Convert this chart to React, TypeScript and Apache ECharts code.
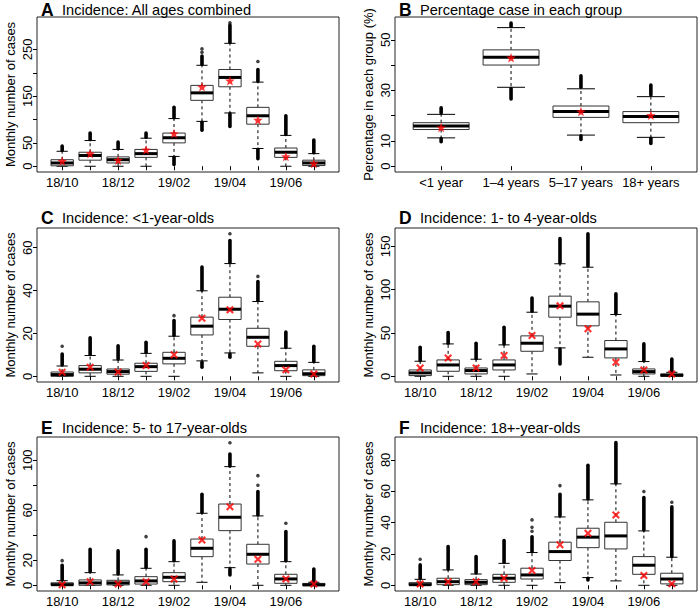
import React, { useEffect, useRef } from 'react';
import * as echarts from 'echarts';

const FONT = 'Liberation Sans, Arial, Helvetica, sans-serif';

const months = ['18/10', '18/11', '18/12', '19/01', '19/02', '19/03', '19/04', '19/05', '19/06', '19/07'];
const groups = ['<1 year', '1\u20134 years', '5\u201317 years', '18+ years'];

// Box stats per category: [lower whisker, Q1, median, Q3, upper whisker]
// Panel A: all ages
const boxA = [
  [0, 1, 7, 14, 32], [0, 13, 23, 30, 55], [0, 7, 14, 20, 36], [0, 19, 27, 36, 60], [21, 50, 61, 71, 102],
  [96, 141, 157, 173, 216], [114, 170, 190, 207, 263], [38, 90, 108, 126, 180], [0, 19, 30, 39, 66], [0, 1.5, 7, 13, 27],
];
const outHiA = [[34, 43], [57, 71], [38, 52], [62, 71], [104, 126], [218, 236], [265, 302], [182, 207], [68, 108], [29, 56]];
const outLoA = [null, null, null, null, [4, 19], [77, 94], [85, 112], [16, 36], null, null];
const sparseA = [[6, 244], [6, 251], [7, 307], [8, 224]];
const obsA = [11, 27, 13, 35, 70, 170, 183, 99, 21, 6];

// Panel B: percentage in each group
const boxB = [[11.2, 14.5, 15.9, 17.2, 20.5], [31.2, 40, 43.1, 46, 54.8], [12.3, 19.3, 21.6, 23.8, 30.6], [11.4, 17.2, 19.6, 21.6, 27.5]];
const outHiB = [[21, 23.1], [55.3, 56.6], [31.2, 35.7], [28.2, 32.1]];
const outLoB = [[9.7, 10.9], [26.6, 30.7], [10.6, 12], [9, 11]];
const sparseB: number[][] = [];
const obsB = [15.3, 42.9, 21.6, 20.1];

// Panel C: <1-year-olds
const boxC = [
  [0, 0, 0.8, 2, 4.8], [0, 1.6, 3.3, 5, 9.7], [0, 1, 2.2, 3.4, 7.6], [0, 2.3, 4.5, 6.1, 10.7], [0, 5.8, 8.4, 11.2, 18.7],
  [7.2, 19.3, 23.4, 27.6, 39.9], [10.9, 26.5, 31.3, 36.9, 52.6], [1.6, 14, 18.2, 22.4, 34.9], [0, 2.6, 5, 7, 13.1], [0, 0.3, 1.2, 3, 6.5],
];
const outHiC = [[5.3, 10.4], [10.2, 18], [8.1, 14.2], [11.2, 15.9], [19.2, 26], [40.3, 51], [53, 63.4], [35.4, 44.2], [13.6, 20.6], [7, 14]];
const outLoC = [null, null, null, null, null, [4.2, 6.5], [8.9, 10.4], null, null, null];
const sparseC = [[1, 14], [5, 28.3], [7, 66.5], [8, 46.6]];
const obsC = [1.9, 4.2, 2, 5, 10.1, 27.1, 31, 15.1, 3, 1.1];

// Panel D: 1- to 4-year-olds
const boxD = [
  [0, 0.8, 3.9, 7.3, 17.4], [0, 5.8, 13.1, 18.9, 37.4], [0, 2.7, 6.6, 9.6, 19.7], [0, 7.3, 13.1, 18.9, 36.3], [2.7, 28.9, 38.2, 46.7, 74],
  [32.8, 68.3, 81, 92.6, 130], [22, 58.3, 71.8, 86, 126], [1.5, 21.2, 31.6, 41.3, 71.4], [0, 2.7, 5.4, 8.5, 17], [0, 0, 1.2, 2.7, 4.6],
];
const outHiD = [[18.2, 33.6], [38.2, 50.5], [20.4, 38.2], [37.4, 56.7], [75.2, 90.3], [131, 159], [127.5, 164.7], [72.3, 95.3], [18, 37.4], [5.8, 20]];
const outLoD = [null, null, null, null, null, [14.3, 31.6], null, null, null, null];
const sparseD: number[][] = [];
const obsD = [9.6, 21.2, 9.6, 23.9, 47, 81.4, 54.8, 16.2, 7.3, 2.7];

// Panel E: 5- to 17-year-olds
const boxE = [
  [0, 0, 0.5, 2, 3.7], [0, 0, 1.9, 4.3, 10.1], [0, 0.3, 1.9, 4, 8.3], [0, 1, 3.5, 6.9, 13.6], [0, 2.9, 6.4, 10.1, 18.9],
  [2.4, 22.9, 29.6, 37, 57.6], [14.1, 43.7, 54.4, 65, 94.9], [0, 17, 24.8, 32.8, 55.5], [0, 1.6, 5.1, 8.8, 18.9], [0, 0, 0.3, 1.5, 2.4],
];
const outHiE = [[4.3, 16], [11, 28.8], [9, 27.5], [14.4, 28.8], [19.7, 35.5], [58.4, 72.8], [95.5, 105], [56.3, 75], [19.7, 43], [3.5, 13]];
const outLoE = [null, null, null, null, null, null, [8.3, 13], null, null, null];
const sparseE = [[1, 19.7], [4, 38.9], [7, 114], [8, 80], [8, 87.7], [9, 49.6]];
const obsE = [0.5, 2.9, 1.1, 2.9, 5.1, 36.3, 62.9, 20.8, 5.1, 1.1];

// Panel F: 18+-year-olds
const boxF = [
  [0, 0, 0.4, 1.7, 3.8], [0, 0.4, 2.3, 4.5, 9.8], [0, 0.4, 1.9, 3.6, 7.2], [0, 1.9, 4.5, 7, 14], [0, 4, 6.6, 10.9, 20.9],
  [1.7, 15.8, 21.5, 27.5, 43.6], [4.9, 24, 30.7, 36.4, 54.5], [2.8, 23.2, 31.5, 40.2, 64.7], [0, 7, 12.8, 18.3, 34.7], [0, 0.9, 4, 7.7, 17.9],
];
const outHiF = [[4.5, 13], [10.4, 24.7], [7.9, 18.3], [14.7, 28.5], [21.5, 31], [44.3, 58], [55.1, 76.5], [65.3, 91], [35.3, 56], [18.3, 50]];
const outLoF = [null, null, null, null, null, null, [3.4, 4.5], null, null, null];
const sparseF = [[1, 16.6], [5, 34.5], [5, 37], [5, 41.7], [6, 63.6], [9, 59.8], [10, 53]];
const obsF = [0.9, 2.3, 2.3, 4.5, 9.4, 25.8, 33.2, 44.9, 6.2, 1];

// Axis ticks and labels
const ticksA = [0, 50, 100, 150, 200, 250];
const labelsA = [0, 50, 150, 250];
const ticksB = [0, 10, 20, 30, 40, 50];
const labelsB = [0, 10, 30, 50];
const ticksC = [0, 20, 40, 60];
const ticksD = [0, 50, 100, 150];
const ticksE = [0, 20, 40, 60, 80, 100];
const labelsE = [0, 20, 60, 100];
const ticksF = [0, 20, 40, 60, 80];
const monthTicks = [1, 2, 3, 4, 5, 6, 7, 8, 9, 10];
const monthLabels = [1, 3, 5, 7, 9];
const groupTicks = [1, 2, 3, 4];

function starPath(): string {
  const pts: string[] = [];
  for (let i = 0; i < 10; i++) {
    const a = -Math.PI / 2 + (i * Math.PI) / 5;
    const r = i % 2 === 0 ? 10 : 4.2;
    pts.push(`${(10 + r * Math.cos(a)).toFixed(2)},${(10 + r * Math.sin(a)).toFixed(2)}`);
  }
  return 'path://M' + pts.join('L') + 'Z';
}
const STAR = starPath();
const CROSS = 'path://M0,1.9L1.9,0L5,3.1L8.1,0L10,1.9L6.9,5L10,8.1L8.1,10L5,6.9L1.9,10L0,8.1L3.1,5Z';

type Panel = {
  letter: string; title: string; yName: string; cats: string[];
  box: number[][]; outHi: (number[] | null)[]; outLo: (number[] | null)[]; sparse: number[][]; obs: number[];
  yMin: number; yMax: number; yTicks: number[]; yLabels: number[];
  xTicks: number[]; xLabels: number[]; xMin: number; xMax: number;
  marker: string; markerSize: number;
  left: number; top: number; width: number; height: number; titleY: number;
};

const W = 302;
const panels: Panel[] = [
  {
    letter: 'A', title: 'Incidence: All ages combined', yName: 'Monthly number of cases', cats: months,
    box: boxA, outHi: outHiA, outLo: outLoA, sparse: sparseA, obs: obsA,
    yMin: -12.3, yMax: 319.3, yTicks: ticksA, yLabels: labelsA,
    xTicks: monthTicks, xLabels: monthLabels, xMin: 0.1, xMax: 10.9,
    marker: STAR, markerSize: 9.5, left: 37, top: 17, width: W, height: 155, titleY: 10,
  },
  {
    letter: 'B', title: 'Percentage case in each group', yName: 'Percentage in each group (%)', cats: groups,
    box: boxB, outHi: outHiB, outLo: outLoB, sparse: sparseB, obs: obsB,
    yMin: -2.3, yMax: 59.0, yTicks: ticksB, yLabels: labelsB,
    xTicks: groupTicks, xLabels: groupTicks, xMin: 0.34, xMax: 4.66,
    marker: STAR, markerSize: 9.5, left: 395, top: 17, width: W, height: 155, titleY: 10,
  },
  {
    letter: 'C', title: 'Incidence: <1-year-olds', yName: 'Monthly number of cases', cats: months,
    box: boxC, outHi: outHiC, outLo: outLoC, sparse: sparseC, obs: obsC,
    yMin: -2.66, yMax: 69.2, yTicks: ticksC, yLabels: ticksC,
    xTicks: monthTicks, xLabels: monthLabels, xMin: 0.1, xMax: 10.9,
    marker: CROSS, markerSize: 8, left: 37, top: 228, width: W, height: 154, titleY: 218,
  },
  {
    letter: 'D', title: 'Incidence: 1- to 4-year-olds', yName: 'Monthly number of cases', cats: months,
    box: boxD, outHi: outHiD, outLo: outLoD, sparse: sparseD, obs: obsD,
    yMin: -6.6, yMax: 171.3, yTicks: ticksD, yLabels: ticksD,
    xTicks: monthTicks, xLabels: monthLabels, xMin: 0.1, xMax: 10.9,
    marker: CROSS, markerSize: 8, left: 395, top: 228, width: W, height: 154, titleY: 218,
  },
  {
    letter: 'E', title: 'Incidence: 5- to 17-year-olds', yName: 'Monthly number of cases', cats: months,
    box: boxE, outHi: outHiE, outLo: outLoE, sparse: sparseE, obs: obsE,
    yMin: -4.56, yMax: 118.6, yTicks: ticksE, yLabels: labelsE,
    xTicks: monthTicks, xLabels: monthLabels, xMin: 0.1, xMax: 10.9,
    marker: CROSS, markerSize: 8, left: 37, top: 437, width: W, height: 154, titleY: 428,
  },
  {
    letter: 'F', title: 'Incidence: 18+-year-olds', yName: 'Monthly number of cases', cats: months,
    box: boxF, outHi: outHiF, outLo: outLoF, sparse: sparseF, obs: obsF,
    yMin: -3.64, yMax: 94.6, yTicks: ticksF, yLabels: ticksF,
    xTicks: monthTicks, xLabels: monthLabels, xMin: 0.1, xMax: 10.9,
    marker: CROSS, markerSize: 8, left: 395, top: 437, width: W, height: 154, titleY: 428,
  },
];

function makeRender(p: Panel) {
  return (params: any, api: any) => {
    const i = params.dataIndex;
    const pos = api.value(0);
    const [wlo, q1, med, q3, whi] = p.box[i];
    const bw = api.size([0.8, 0])[0];
    const cx = api.coord([pos, med])[0];
    const y = (v: number) => api.coord([pos, v])[1];
    const half = bw / 2;
    const cap = bw / 4;
    const children: any[] = [];
    const dash = { stroke: '#000', lineWidth: 1, lineDash: [3, 3] };
    const solid = { stroke: '#000', lineWidth: 1 };
    const dots = { stroke: '#000', lineWidth: 3.6, lineCap: 'round' };
    const hi = p.outHi[i];
    const lo = p.outLo[i];
    if (hi) children.push({ type: 'line', shape: { x1: cx, y1: y(hi[0]), x2: cx, y2: y(hi[1]) }, style: dots });
    if (lo) children.push({ type: 'line', shape: { x1: cx, y1: y(lo[0]), x2: cx, y2: y(lo[1]) }, style: dots });
    children.push({ type: 'line', shape: { x1: cx, y1: y(q3), x2: cx, y2: y(whi) }, style: dash });
    children.push({ type: 'line', shape: { x1: cx, y1: y(q1), x2: cx, y2: y(wlo) }, style: dash });
    children.push({ type: 'line', shape: { x1: cx - cap, y1: y(whi), x2: cx + cap, y2: y(whi) }, style: solid });
    children.push({ type: 'line', shape: { x1: cx - cap, y1: y(wlo), x2: cx + cap, y2: y(wlo) }, style: solid });
    children.push({
      type: 'rect',
      shape: { x: cx - half, y: y(q3), width: bw, height: Math.max(y(q1) - y(q3), 0.5) },
      style: { fill: '#fff', stroke: '#333', lineWidth: 1 },
    });
    children.push({ type: 'line', shape: { x1: cx - half, y1: y(med), x2: cx + half, y2: y(med) }, style: { stroke: '#000', lineWidth: 3 } });
    return { type: 'group', children };
  };
}

function buildOption() {
  const grid: any[] = [];
  const xAxis: any[] = [];
  const yAxis: any[] = [];
  const series: any[] = [];
  const graphic: any[] = [];
  panels.forEach((p, k) => {
    grid.push({
      left: p.left, top: p.top, width: p.width, height: p.height,
      show: true, borderColor: '#222', borderWidth: 1, backgroundColor: 'transparent',
    });
    xAxis.push({
      gridIndex: k, type: 'value', min: p.xMin, max: p.xMax,
      axisLine: { show: false }, splitLine: { show: false },
      axisTick: { show: true, length: 4, customValues: p.xTicks, lineStyle: { color: '#000' } },
      axisLabel: {
        customValues: p.xLabels, margin: 4, fontSize: 13, color: '#000', fontFamily: FONT,
        formatter: (v: number) => p.cats[Math.round(v) - 1],
      },
    });
    yAxis.push({
      gridIndex: k, type: 'value', min: p.yMin, max: p.yMax,
      axisLine: { show: false }, splitLine: { show: false },
      axisTick: { show: true, length: 4, customValues: p.yTicks, lineStyle: { color: '#000' } },
      axisLabel: { customValues: p.yLabels, rotate: 90, margin: 3, fontSize: 13, color: '#000', fontFamily: FONT },
      name: p.yName, nameLocation: 'middle', nameGap: 20,
      nameTextStyle: { fontSize: 13, color: '#000', fontFamily: FONT },
    });
    series.push({
      type: 'custom', xAxisIndex: k, yAxisIndex: k,
      data: p.box.map((b, i) => [i + 1, b[2]]),
      renderItem: makeRender(p), z: 2, silent: true,
    });
    series.push({
      type: 'scatter', xAxisIndex: k, yAxisIndex: k,
      data: p.sparse, symbol: 'circle', symbolSize: 3.6,
      itemStyle: { color: '#111' }, z: 2, silent: true,
    });
    series.push({
      type: 'scatter', xAxisIndex: k, yAxisIndex: k,
      data: p.obs.map((v, i) => [i + 1, v]), symbol: p.marker, symbolSize: p.markerSize,
      itemStyle: { color: '#ff0000' }, z: 5, silent: true,
    });
    graphic.push({
      type: 'text', x: p.left + 4, y: p.titleY,
      style: { text: p.letter, fontSize: 17.5, fontWeight: 'bold', fontFamily: FONT, fill: '#000', verticalAlign: 'middle', align: 'left' },
    });
    graphic.push({
      type: 'text', x: p.left + 25, y: p.titleY,
      style: { text: p.title, fontSize: 14.6, fontFamily: FONT, fill: '#000', verticalAlign: 'middle', align: 'left' },
    });
  });
  return {
    animation: false,
    backgroundColor: '#fff',
    textStyle: { fontFamily: FONT },
    grid, xAxis, yAxis, series, graphic,
  };
}

export default function App() {
  const ref = useRef<HTMLDivElement>(null);
  useEffect(() => {
    const chart = echarts.init(ref.current!, null, { renderer: 'svg', width: 700, height: 612 });
    chart.setOption(buildOption() as any);
    return () => chart.dispose();
  }, []);
  return (
    <div
      ref={ref}
      style={{ position: 'fixed', left: 0, top: 0, width: 700, height: 612, background: '#fff' }}
    />
  );
}
